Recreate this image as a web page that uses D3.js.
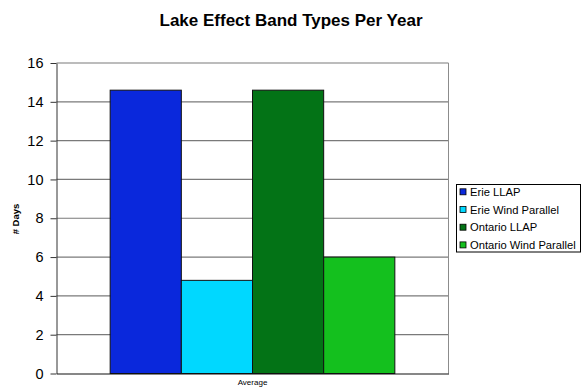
<!DOCTYPE html>
<html>
<head>
<meta charset="utf-8">
<script src="https://cdn.jsdelivr.net/npm/d3@7"></script>
<style>
  body { margin: 0; background: #fff; }
  svg { display: block; font-family: "Liberation Sans", Arial, sans-serif; }
</style>
</head>
<body>
<div id="chart"></div>
<script>
const categories = ['Average'];
const seriesNames = ['Erie LLAP', 'Erie Wind Parallel', 'Ontario LLAP', 'Ontario Wind Parallel'];
const seriesValues = [14.6, 4.8, 14.6, 6.0];
const seriesColors = ['#0a28dc', '#00d8ff', '#037316', '#14c01e'];
const yTicks = [0, 2, 4, 6, 8, 10, 12, 14, 16];

const width = 586, height = 389;
const margin = {top: 63, right: 137.5, bottom: 15.5, left: 56.5};
const w = width - margin.left - margin.right,
      h = height - margin.top - margin.bottom;

const svg = d3.select('#chart').append('svg')
    .attr('width', width)
    .attr('height', height);

svg.append('text')
    .attr('x', 291)
    .attr('y', 26)
    .attr('text-anchor', 'middle')
    .attr('font-size', 17)
    .attr('font-weight', 'bold')
    .text('Lake Effect Band Types Per Year');

const g = svg.append('g')
    .attr('transform', 'translate(' + margin.left + ',' + margin.top + ')');

const y = d3.scaleLinear().domain([0, 16]).range([h, 0]);
const x = d3.scaleBand().domain(categories).range([0, w]).paddingOuter(0.1885).paddingInner(0);
const xs = d3.scaleBand().domain(seriesNames).range([0, x.bandwidth()]);

// gridlines
g.selectAll('.grid')
  .data(yTicks.filter(d => d > 0))
  .enter()
  .append('line')
    .attr('class', 'grid')
    .attr('x1', 0)
    .attr('x2', w)
    .attr('y1', d => y(d))
    .attr('y2', d => y(d))
    .attr('stroke', '#7a7a7a')
    .attr('stroke-width', 1.2);

// plot area border (right side)
g.append('line')
    .attr('x1', w).attr('x2', w)
    .attr('y1', 0).attr('y2', h)
    .attr('stroke', '#8c8c8c')
    .attr('stroke-width', 1);

// bars
const grp = g.selectAll('.cat')
  .data(categories)
  .enter()
  .append('g')
    .attr('transform', d => 'translate(' + x(d) + ',0)');

grp.selectAll('.bar')
  .data(seriesNames.map((s, i) => ({s, v: seriesValues[i], c: seriesColors[i]})))
  .enter()
  .append('rect')
    .attr('class', 'bar')
    .attr('x', d => xs(d.s))
    .attr('y', d => y(d.v))
    .attr('width', xs.bandwidth())
    .attr('height', d => h - y(d.v))
    .attr('fill', d => d.c)
    .attr('stroke', '#111')
    .attr('stroke-width', 1);

// y axis
const yAxis = g.append('g')
    .call(d3.axisLeft(y).tickValues(yTicks).tickSize(6).tickSizeOuter(0).tickPadding(7));
yAxis.select('.domain').attr('stroke', '#333');
yAxis.selectAll('.tick line').attr('stroke', '#333');
yAxis.selectAll('.tick text')
    .attr('font-size', 14.5)
    .attr('font-family', '"Liberation Sans", Arial, sans-serif')
    .attr('fill', '#000');

// x axis
const xAxis = g.append('g')
    .attr('transform', 'translate(0,' + h + ')')
    .call(d3.axisBottom(x).tickSize(0).tickSizeOuter(0).tickPadding(6));
xAxis.select('.domain').attr('stroke', '#111').attr('stroke-width', 1.2);
xAxis.selectAll('.tick text')
    .attr('font-size', 8)
    .attr('font-family', '"Liberation Sans", Arial, sans-serif')
    .attr('fill', '#000');

// y axis title
svg.append('text')
    .attr('transform', 'translate(18.5,219) rotate(-90)')
    .attr('text-anchor', 'middle')
    .attr('font-size', 9.5)
    .attr('font-weight', 'bold')
    .text('# Days');

// legend
const legend = svg.append('g').attr('transform', 'translate(456.5,184.5)');
legend.append('rect')
    .attr('width', 124)
    .attr('height', 67.5)
    .attr('fill', '#fff')
    .attr('stroke', '#000')
    .attr('stroke-width', 1);

const item = legend.selectAll('.item')
  .data(seriesNames)
  .enter()
  .append('g')
    .attr('transform', (d, i) => 'translate(0,' + (7.3 + i * 17.7) + ')');

item.append('rect')
    .attr('x', 3.5)
    .attr('y', -3)
    .attr('width', 6)
    .attr('height', 6)
    .attr('fill', (d, i) => seriesColors[i])
    .attr('stroke', '#000')
    .attr('stroke-width', 0.8);

item.append('text')
    .attr('x', 13.5)
    .attr('y', 4)
    .attr('font-size', 11.2)
    .text(d => d);
</script>
</body>
</html>
